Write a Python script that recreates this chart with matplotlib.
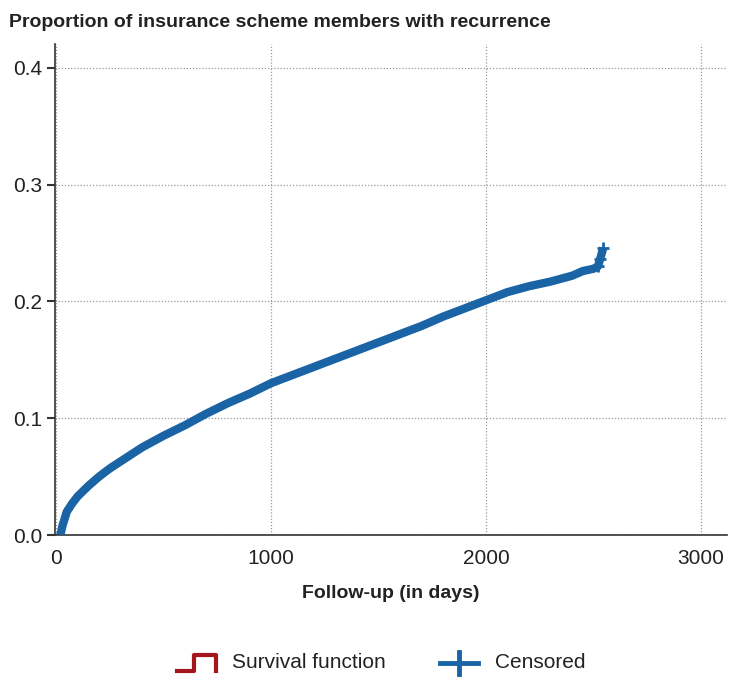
import matplotlib
matplotlib.use("Agg")
import matplotlib.pyplot as plt
from matplotlib.lines import Line2D

# cumulative proportion with recurrence
days = [0, 20, 30, 50, 75, 100, 150, 200, 250, 300, 400, 500, 600, 700, 800,
        900, 1000, 1100, 1200, 1300, 1400, 1500, 1600, 1700, 1800, 1900,
        2000, 2100, 2200, 2300, 2400, 2450, 2500, 2520, 2530, 2545]
prop = [0.0, 0.0, 0.008, 0.02, 0.027, 0.033, 0.042, 0.050, 0.057, 0.063,
        0.075, 0.085, 0.094, 0.104, 0.113, 0.121, 0.130, 0.137, 0.144, 0.151,
        0.158, 0.165, 0.172, 0.179, 0.187, 0.194, 0.201, 0.208, 0.213, 0.217,
        0.222, 0.226, 0.228, 0.230, 0.236, 0.246]
xticks = [0, 1000, 2000, 3000]
yticks = [0.0, 0.1, 0.2, 0.3, 0.4]

plt.rcParams["font.family"] = ["Liberation Sans Narrow", "Liberation Sans",
                               "DejaVu Sans"]

blue = "#1a64a6"
red = "#a3161c"

fig = plt.figure(figsize=(7.36, 6.9), dpi=100)
ax = fig.add_axes([0.0747, 0.2246, 0.913, 0.711])

ax.plot(days, prop, color=red, linewidth=1.5, zorder=2)
ax.plot(days[1:], prop[1:], color=blue, linewidth=6, zorder=3,
        solid_capstyle="butt", solid_joinstyle="round")
ax.plot(days[-3:], prop[-3:], linestyle="none", marker="+", markersize=8,
        markeredgewidth=2, color=blue, zorder=4)

ax.set_xlim(-5, 3120)
ax.set_ylim(0, 0.42)
ax.set_xticks(xticks)
ax.set_yticks(yticks)
ax.set_xticklabels([str(v) for v in xticks])
ax.set_yticklabels([f"{v:.1f}" for v in yticks])
ax.grid(True, linestyle=(0, (1, 1.5)), color="#999999", linewidth=0.9)
ax.set_axisbelow(True)

for s in ["top", "right"]:
    ax.spines[s].set_visible(False)
for s in ["left", "bottom"]:
    ax.spines[s].set_color("#333333")
    ax.spines[s].set_linewidth(1.2)
ax.tick_params(axis="y", length=6, width=1.5, color="#333333",
               labelsize=15, labelcolor="#222222", pad=3)
ax.tick_params(axis="x", length=0, labelsize=15, labelcolor="#222222", pad=10)

ax.set_xlabel("Follow-up (in days)", fontsize=14, fontweight="bold",
              color="#222222", labelpad=12)

fig.text(0.012, 0.968, "Proportion of insurance scheme members with recurrence",
         fontsize=14, fontweight="bold", color="#222222", va="center")

# legend drawn by hand
ly = 1 - 663 / 690
fig.add_artist(Line2D(
    [177 / 736, 194 / 736, 194 / 736, 216 / 736, 216 / 736],
    [ly - 0.012, ly - 0.012, ly + 0.012, ly + 0.012, ly - 0.012],
    color=red, linewidth=3))
fig.text(232 / 736, ly, "Survival function", fontsize=15, color="#222222",
         va="center")
fig.add_artist(Line2D([440 / 736, 478 / 736], [ly, ly], color=blue,
                      linewidth=3.5))
fig.add_artist(Line2D([459 / 736, 459 / 736], [ly - 0.016, ly + 0.016],
                      color=blue, linewidth=3.5))
fig.text(495 / 736, ly, "Censored", fontsize=15, color="#222222", va="center")

fig.savefig("out.png", dpi=100, facecolor="white")
